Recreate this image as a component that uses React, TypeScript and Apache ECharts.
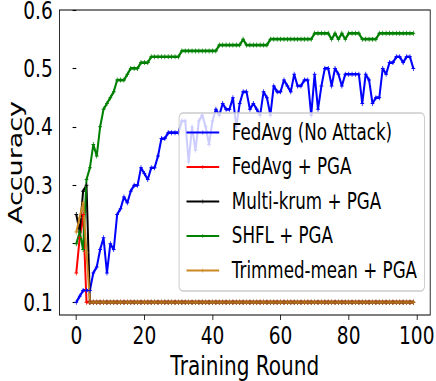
import React, { useEffect, useRef } from "react";
import * as echarts from "echarts";

// The reference figure is horizontally compressed; we draw at full width and squeeze.
const SQUEEZE = 0.743;
const W = Math.round(436 / SQUEEZE);
const H = 381;

const xTicks = [0, 20, 40, 60, 80, 100];
const yTicks = [0.1, 0.2, 0.3, 0.4, 0.5, 0.6];

const seriesNames = [
  "FedAvg (No Attack)",
  "FedAvg + PGA",
  "Multi-krum + PGA",
  "SHFL + PGA",
  "Trimmed-mean + PGA",
];
const seriesColors = ["#0000ff", "#ff0000", "#000000", "#008000", "#cc8822"];

const fedAvgNoAttack = [
  0.10, 0.11, 0.12, 0.12, 0.12, 0.15, 0.16, 0.19, 0.21, 0.15,
  0.20, 0.19, 0.25, 0.26, 0.28, 0.27, 0.29, 0.30, 0.30, 0.33,
  0.32, 0.31, 0.33, 0.33, 0.35, 0.38, 0.38, 0.39, 0.39, 0.39,
  0.39, 0.41, 0.41, 0.34, 0.40, 0.36, 0.41, 0.42, 0.40, 0.37,
  0.41, 0.43, 0.42, 0.44, 0.43, 0.43, 0.45, 0.40, 0.44, 0.46,
  0.46, 0.43, 0.44, 0.43, 0.42, 0.46, 0.45, 0.42, 0.47, 0.46,
  0.46, 0.48, 0.47, 0.46, 0.49, 0.47, 0.47, 0.48, 0.48, 0.42,
  0.49, 0.43, 0.47, 0.50, 0.50, 0.47, 0.50, 0.49, 0.47, 0.49,
  0.49, 0.49, 0.49, 0.49, 0.44, 0.49, 0.48, 0.44, 0.45, 0.45,
  0.50, 0.49, 0.51, 0.51, 0.52, 0.52, 0.51, 0.52, 0.52, 0.50,
];

const fedAvgPGA = [
  0.15, 0.21, 0.25, 0.10, 0.10, 0.10, 0.10, 0.10, 0.10, 0.10,
  0.10, 0.10, 0.10, 0.10, 0.10, 0.10, 0.10, 0.10, 0.10, 0.10,
  0.10, 0.10, 0.10, 0.10, 0.10, 0.10, 0.10, 0.10, 0.10, 0.10,
  0.10, 0.10, 0.10, 0.10, 0.10, 0.10, 0.10, 0.10, 0.10, 0.10,
  0.10, 0.10, 0.10, 0.10, 0.10, 0.10, 0.10, 0.10, 0.10, 0.10,
  0.10, 0.10, 0.10, 0.10, 0.10, 0.10, 0.10, 0.10, 0.10, 0.10,
  0.10, 0.10, 0.10, 0.10, 0.10, 0.10, 0.10, 0.10, 0.10, 0.10,
  0.10, 0.10, 0.10, 0.10, 0.10, 0.10, 0.10, 0.10, 0.10, 0.10,
  0.10, 0.10, 0.10, 0.10, 0.10, 0.10, 0.10, 0.10, 0.10, 0.10,
  0.10, 0.10, 0.10, 0.10, 0.10, 0.10, 0.10, 0.10, 0.10, 0.10,
];

const multiKrumPGA = [
  0.25, 0.22, 0.29, 0.30, 0.10, 0.10, 0.10, 0.10, 0.10, 0.10,
  0.10, 0.10, 0.10, 0.10, 0.10, 0.10, 0.10, 0.10, 0.10, 0.10,
  0.10, 0.10, 0.10, 0.10, 0.10, 0.10, 0.10, 0.10, 0.10, 0.10,
  0.10, 0.10, 0.10, 0.10, 0.10, 0.10, 0.10, 0.10, 0.10, 0.10,
  0.10, 0.10, 0.10, 0.10, 0.10, 0.10, 0.10, 0.10, 0.10, 0.10,
  0.10, 0.10, 0.10, 0.10, 0.10, 0.10, 0.10, 0.10, 0.10, 0.10,
  0.10, 0.10, 0.10, 0.10, 0.10, 0.10, 0.10, 0.10, 0.10, 0.10,
  0.10, 0.10, 0.10, 0.10, 0.10, 0.10, 0.10, 0.10, 0.10, 0.10,
  0.10, 0.10, 0.10, 0.10, 0.10, 0.10, 0.10, 0.10, 0.10, 0.10,
  0.10, 0.10, 0.10, 0.10, 0.10, 0.10, 0.10, 0.10, 0.10, 0.10,
];

const shflPGA = [
  0.20, 0.22, 0.19, 0.31, 0.33, 0.37, 0.35, 0.40, 0.43, 0.44,
  0.45, 0.46, 0.48, 0.48, 0.48, 0.49, 0.50, 0.50, 0.50, 0.51,
  0.51, 0.51, 0.52, 0.52, 0.52, 0.52, 0.52, 0.52, 0.52, 0.52,
  0.52, 0.53, 0.53, 0.53, 0.53, 0.53, 0.53, 0.53, 0.53, 0.53,
  0.53, 0.53, 0.54, 0.54, 0.54, 0.54, 0.54, 0.54, 0.54, 0.55,
  0.54, 0.54, 0.54, 0.54, 0.54, 0.54, 0.54, 0.55, 0.55, 0.55,
  0.55, 0.55, 0.55, 0.55, 0.55, 0.55, 0.55, 0.55, 0.55, 0.55,
  0.56, 0.56, 0.56, 0.56, 0.56, 0.55, 0.56, 0.55, 0.56, 0.55,
  0.56, 0.56, 0.56, 0.56, 0.55, 0.55, 0.55, 0.55, 0.55, 0.56,
  0.56, 0.56, 0.56, 0.56, 0.56, 0.56, 0.56, 0.56, 0.56, 0.56,
];

const trimmedMeanPGA = [
  0.22, 0.245, 0.27, 0.185, 0.10, 0.10, 0.10, 0.10, 0.10, 0.10,
  0.10, 0.10, 0.10, 0.10, 0.10, 0.10, 0.10, 0.10, 0.10, 0.10,
  0.10, 0.10, 0.10, 0.10, 0.10, 0.10, 0.10, 0.10, 0.10, 0.10,
  0.10, 0.10, 0.10, 0.10, 0.10, 0.10, 0.10, 0.10, 0.10, 0.10,
  0.10, 0.10, 0.10, 0.10, 0.10, 0.10, 0.10, 0.10, 0.10, 0.10,
  0.10, 0.10, 0.10, 0.10, 0.10, 0.10, 0.10, 0.10, 0.10, 0.10,
  0.10, 0.10, 0.10, 0.10, 0.10, 0.10, 0.10, 0.10, 0.10, 0.10,
  0.10, 0.10, 0.10, 0.10, 0.10, 0.10, 0.10, 0.10, 0.10, 0.10,
  0.10, 0.10, 0.10, 0.10, 0.10, 0.10, 0.10, 0.10, 0.10, 0.10,
  0.10, 0.10, 0.10, 0.10, 0.10, 0.10, 0.10, 0.10, 0.10, 0.10,
];

const allSeries = [fedAvgNoAttack, fedAvgPGA, multiKrumPGA, shflPGA, trimmedMeanPGA];

export default function App() {
  const ref = useRef<HTMLDivElement>(null);

  useEffect(() => {
    if (!ref.current) return;
    const chart = echarts.init(ref.current, null, { renderer: "svg", width: W, height: H });
    const font = "'DejaVu Sans', sans-serif";
    const plus = "path://M4,0H6V4H10V6H6V10H4V6H0V4H4Z";

    chart.setOption({
      animation: false,
      backgroundColor: "#ffffff",
      grid: {
        left: 80,
        right: 8,
        top: 10,
        bottom: 66,
        outerBoundsMode: "none",
        containLabel: false,
        show: true,
        borderColor: "#000000",
        borderWidth: 1.1,
        backgroundColor: "transparent",
      },
      xAxis: {
        type: "value",
        min: -4.95,
        max: 103.95,
        axisLine: { show: false },
        splitLine: { show: false },
        axisTick: {
          show: true,
          customValues: xTicks,
          length: 5,
          lineStyle: { color: "#000000", width: 1.1 },
        },
        axisLabel: {
          show: true,
          customValues: xTicks,
          fontSize: 25,
          color: "#000000",
          fontFamily: font,
          margin: 8,
        },
        name: "Training Round",
        nameLocation: "middle",
        nameGap: 37,
        nameMoveOverlap: false,
        nameTextStyle: { fontSize: 27, color: "#000000", fontFamily: font },
      },
      yAxis: {
        type: "value",
        min: 0.078,
        max: 0.6,
        axisLine: { show: false },
        splitLine: { show: false },
        axisTick: {
          show: true,
          customValues: yTicks,
          length: 5,
          lineStyle: { color: "#000000", width: 1.1 },
        },
        axisLabel: {
          show: true,
          customValues: yTicks,
          fontSize: 25,
          color: "#000000",
          fontFamily: font,
          margin: 9,
          formatter: (v: number) => v.toFixed(1),
        },
        name: "Accuracy",
        nameLocation: "middle",
        nameGap: 46,
        nameMoveOverlap: false,
        nameTextStyle: { fontSize: 27, color: "#000000", fontFamily: font },
      },
      legend: {
        orient: "vertical",
        left: 241,
        top: 113,
        itemWidth: 44,
        itemHeight: 5,
        itemGap: 11.5,
        padding: [8, 10, 9, 9],
        backgroundColor: "rgba(255,255,255,0.8)",
        borderColor: "#cccccc",
        borderWidth: 1.3,
        borderRadius: 5,
        selectedMode: false,
        data: seriesNames,
        textStyle: {
          fontSize: 22.5,
          color: "#000000",
          fontFamily: font,
          padding: [0, 0, 0, 12],
        },
      },
      series: allSeries.map((vals, k) => ({
        name: seriesNames[k],
        type: "line",
        data: vals.map((v, i) => [i, v]),
        symbol: plus,
        symbolSize: 5,
        showSymbol: true,
        lineStyle: { color: seriesColors[k], width: 2.7 },
        itemStyle: { color: seriesColors[k] },
        emphasis: { disabled: true },
        silent: true,
      })),
    });

    return () => chart.dispose();
  }, []);

  return (
    <div
      style={{
        position: "fixed",
        left: 0,
        top: 0,
        width: 436,
        height: 381,
        overflow: "hidden",
        background: "#ffffff",
      }}
    >
      <div
        ref={ref}
        style={{
          width: W,
          height: H,
          transform: `scaleX(${SQUEEZE})`,
          transformOrigin: "0 0",
        }}
      />
    </div>
  );
}
